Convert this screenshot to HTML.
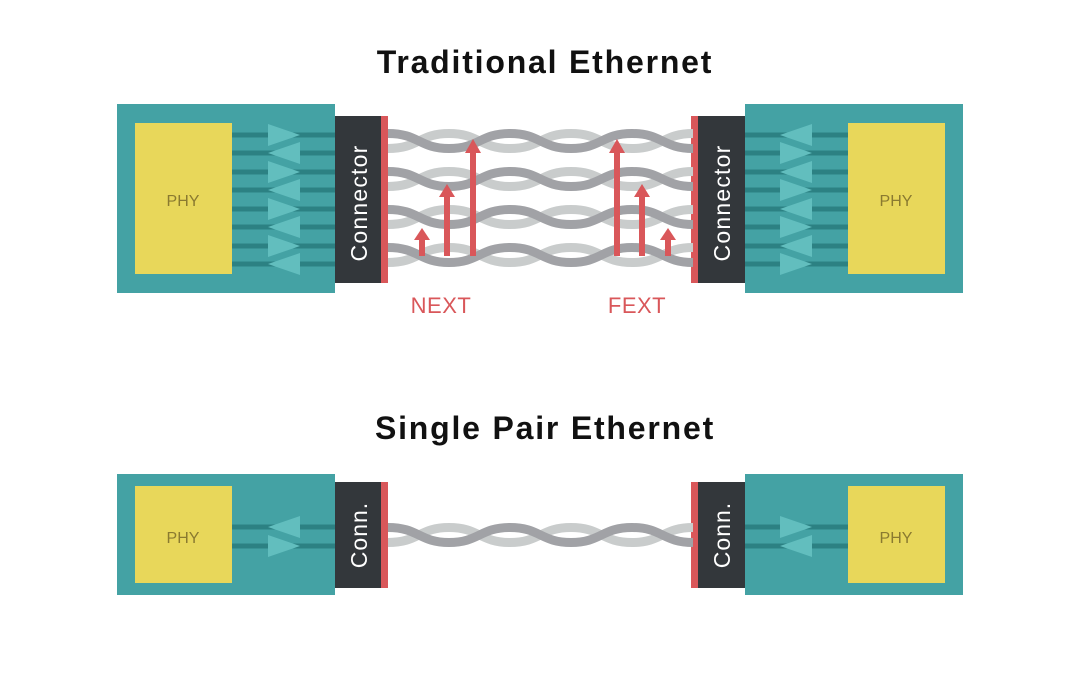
<!DOCTYPE html>
<html><head><meta charset="utf-8"><style>
html,body{margin:0;padding:0;background:#fff;}
svg{display:block}
text{font-family:"Liberation Sans",sans-serif}
</style></head><body>
<svg width="1080" height="680" viewBox="0 0 1080 680" xmlns="http://www.w3.org/2000/svg">
<defs>
  <g id="pair">
    <path d="M388,-7.5 C419,-7.5 419,7.5 449,7.5 S480,-7.5 510,-7.5 S541,7.5 571,7.5 S602,-7.5 632,-7.5 S663,7.5 693,7.5" fill="none" stroke="#c9cccc" stroke-width="9" transform="scale(1,-1)"/>
    <path d="M388,-7.5 C419,-7.5 419,7.5 449,7.5 S480,-7.5 510,-7.5 S541,7.5 571,7.5 S602,-7.5 632,-7.5 S663,7.5 693,7.5" fill="none" stroke="#a1a2a6" stroke-width="9"/>
  </g>
  <polygon id="tr" points="0,-11 32,0 0,11" fill="#62bebe"/>
  <polygon id="tl" points="32,-11 0,0 32,11" fill="#62bebe"/>
</defs>

<text x="545" y="73" text-anchor="middle" font-size="32" font-weight="bold" letter-spacing="1.8" fill="#111">Traditional Ethernet</text>
<text x="545" y="439" text-anchor="middle" font-size="32" font-weight="bold" letter-spacing="1.8" fill="#111">Single Pair Ethernet</text>

<!-- TOP LEFT -->
<rect x="117" y="104" width="218" height="189" fill="#44a2a4"/>
<rect x="135" y="123" width="97" height="151" fill="#e8d75a"/>
<text x="183" y="206" text-anchor="middle" font-size="16" fill="#8a7a30">PHY</text>
<g stroke="#2c8183" stroke-width="5">
<line x1="232" y1="135" x2="335" y2="135"/><line x1="232" y1="153" x2="335" y2="153"/>
<line x1="232" y1="172" x2="335" y2="172"/><line x1="232" y1="190" x2="335" y2="190"/>
<line x1="232" y1="209" x2="335" y2="209"/><line x1="232" y1="227" x2="335" y2="227"/>
<line x1="232" y1="246" x2="335" y2="246"/><line x1="232" y1="264" x2="335" y2="264"/>
</g>
<use href="#tr" x="268" y="135"/><use href="#tl" x="268" y="153"/>
<use href="#tr" x="268" y="172"/><use href="#tl" x="268" y="190"/>
<use href="#tr" x="268" y="209"/><use href="#tl" x="268" y="227"/>
<use href="#tr" x="268" y="246"/><use href="#tl" x="268" y="264"/>
<rect x="335" y="116" width="46" height="167" fill="#33373b"/>
<rect x="381" y="116" width="7" height="167" fill="#d9575a"/>
<text transform="translate(367,203) rotate(-90)" text-anchor="middle" font-size="23" letter-spacing="1.2" fill="#fff">Connector</text>

<!-- TOP RIGHT -->
<rect x="745" y="104" width="218" height="189" fill="#44a2a4"/>
<rect x="848" y="123" width="97" height="151" fill="#e8d75a"/>
<text x="896" y="206" text-anchor="middle" font-size="16" fill="#8a7a30">PHY</text>
<g stroke="#2c8183" stroke-width="5">
<line x1="745" y1="135" x2="848" y2="135"/><line x1="745" y1="153" x2="848" y2="153"/>
<line x1="745" y1="172" x2="848" y2="172"/><line x1="745" y1="190" x2="848" y2="190"/>
<line x1="745" y1="209" x2="848" y2="209"/><line x1="745" y1="227" x2="848" y2="227"/>
<line x1="745" y1="246" x2="848" y2="246"/><line x1="745" y1="264" x2="848" y2="264"/>
</g>
<use href="#tl" x="780" y="135"/><use href="#tr" x="780" y="153"/>
<use href="#tl" x="780" y="172"/><use href="#tr" x="780" y="190"/>
<use href="#tl" x="780" y="209"/><use href="#tr" x="780" y="227"/>
<use href="#tl" x="780" y="246"/><use href="#tr" x="780" y="264"/>
<rect x="698" y="116" width="47" height="167" fill="#33373b"/>
<rect x="691" y="116" width="7" height="167" fill="#d9575a"/>
<text transform="translate(730,203) rotate(-90)" text-anchor="middle" font-size="23" letter-spacing="1.2" fill="#fff">Connector</text>

<!-- pairs -->
<use href="#pair" x="0" y="141"/>
<use href="#pair" x="0" y="179"/>
<use href="#pair" x="0" y="217"/>
<use href="#pair" x="0" y="255"/>

<!-- arrows -->
<g fill="#d9575a">
<rect x="419" y="238" width="6" height="18"/><polygon points="414,240 422,228 430,240"/>
<rect x="444" y="195" width="6" height="61"/><polygon points="439,197 447,184 455,197"/>
<rect x="470" y="150" width="6" height="106"/><polygon points="465,153 473,139 481,153"/>
<rect x="614" y="150" width="6" height="106"/><polygon points="609,153 617,139 625,153"/>
<rect x="639" y="195" width="6" height="61"/><polygon points="634,197 642,184 650,197"/>
<rect x="665" y="238" width="6" height="18"/><polygon points="660,240 668,228 676,240"/>
</g>
<text x="441" y="313" text-anchor="middle" font-size="22" letter-spacing="0.5" fill="#d9575a">NEXT</text>
<text x="637" y="313" text-anchor="middle" font-size="22" letter-spacing="0.5" fill="#d9575a">FEXT</text>

<!-- BOTTOM LEFT -->
<rect x="117" y="474" width="218" height="121" fill="#44a2a4"/>
<rect x="135" y="486" width="97" height="97" fill="#e8d75a"/>
<text x="183" y="543" text-anchor="middle" font-size="16" fill="#8a7a30">PHY</text>
<g stroke="#2c8183" stroke-width="5">
<line x1="232" y1="527" x2="335" y2="527"/><line x1="232" y1="546" x2="335" y2="546"/>
</g>
<use href="#tl" x="268" y="527"/><use href="#tr" x="268" y="546"/>
<rect x="335" y="482" width="46" height="106" fill="#33373b"/>
<rect x="381" y="482" width="7" height="106" fill="#d9575a"/>
<text transform="translate(367,535) rotate(-90)" text-anchor="middle" font-size="23" letter-spacing="1" fill="#fff">Conn.</text>

<!-- BOTTOM RIGHT -->
<rect x="745" y="474" width="218" height="121" fill="#44a2a4"/>
<rect x="848" y="486" width="97" height="97" fill="#e8d75a"/>
<text x="896" y="543" text-anchor="middle" font-size="16" fill="#8a7a30">PHY</text>
<g stroke="#2c8183" stroke-width="5">
<line x1="745" y1="527" x2="848" y2="527"/><line x1="745" y1="546" x2="848" y2="546"/>
</g>
<use href="#tr" x="780" y="527"/><use href="#tl" x="780" y="546"/>
<rect x="698" y="482" width="47" height="106" fill="#33373b"/>
<rect x="691" y="482" width="7" height="106" fill="#d9575a"/>
<text transform="translate(730,535) rotate(-90)" text-anchor="middle" font-size="23" letter-spacing="1" fill="#fff">Conn.</text>

<use href="#pair" x="0" y="535"/>
</svg>
</body></html>
